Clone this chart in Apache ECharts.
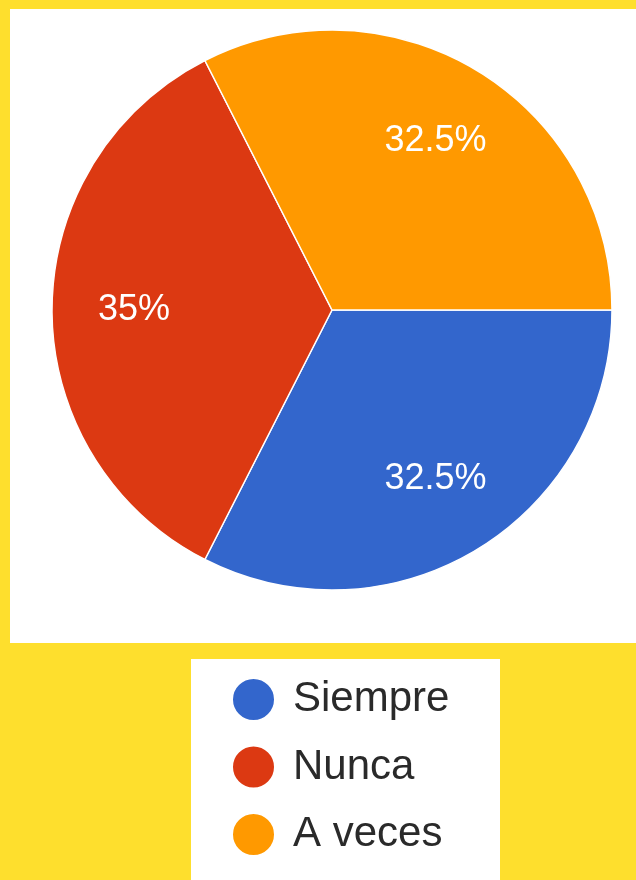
<!DOCTYPE html>
<html>
<head>
<meta charset="utf-8">
<script src="https://cdn.jsdelivr.net/npm/echarts@6/dist/echarts.min.js"></script>
<style>
  html, body { margin: 0; padding: 0; background: #fedf2d; }
  #chart { width: 636px; height: 880px; }
</style>
</head>
<body>
<div id="chart"></div>
<script>
const categories = ['Siempre', 'Nunca', 'A veces']
const values = [32.5, 35, 32.5]
const colors = ['#3366cc', '#dc3912', '#ff9900']

const pieData = categories.map((name, i) => ({ name: name, value: values[i] }))

const chart = echarts.init(document.getElementById('chart'))
chart.setOption({
  backgroundColor: '#fedf2d',
  animation: false,
  color: colors,
  graphic: [
    // white card behind the pie
    { type: 'rect', z: -10, shape: { x: 10, y: 9, width: 640, height: 634 }, style: { fill: '#ffffff' } },
    // white card behind the legend
    { type: 'rect', z: -10, shape: { x: 191, y: 659, width: 309, height: 240 }, style: { fill: '#ffffff' } }
  ],
  legend: {
    orient: 'vertical',
    left: 231,
    top: 677,
    icon: 'circle',
    itemWidth: 43,
    itemHeight: 43,
    itemGap: 22.5,
    padding: 0,
    data: categories,
    textStyle: {
      fontFamily: 'Liberation Sans',
      fontSize: 42,
      color: '#2a2a2a',
      padding: [0, 0, 0, 13]
    }
  },
  series: [
    {
      name: 'main',
      type: 'pie',
      center: [332, 310],
      radius: [0, 280],
      startAngle: 0,
      clockwise: true,
      data: pieData,
      label: { show: false },
      labelLine: { show: false },
      itemStyle: { borderColor: '#ffffff', borderWidth: 1.5 },
      emphasis: { disabled: true }
    },
    {
      // invisible ring only used to place the percentage labels further out
      name: 'labels',
      type: 'pie',
      center: [332, 310],
      radius: [110, 280],
      startAngle: 0,
      clockwise: true,
      silent: true,
      data: pieData,
      legendHoverLink: false,
      itemStyle: { color: 'rgba(0,0,0,0)' },
      label: {
        show: true,
        position: 'inside',
        formatter: p => p.value + '%',
        color: '#ffffff',
        fontFamily: 'Liberation Sans',
        fontSize: 36
      },
      labelLine: { show: false },
      emphasis: { disabled: true }
    }
  ]
})
</script>
</body>
</html>
